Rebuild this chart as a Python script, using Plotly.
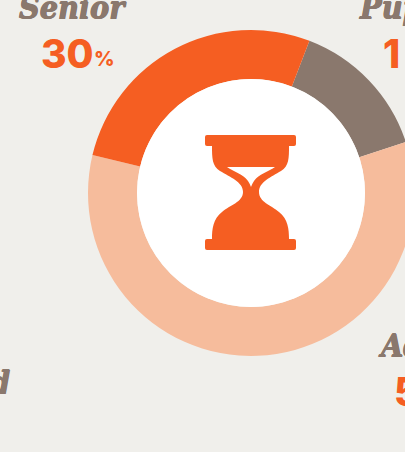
import plotly.graph_objects as go

categories = ["Pupil", "Adult", "Senior"]
arc_values = [14.1, 58.8, 27.1]
ORANGE = "#F55E22"; BROWN = "#8A786D"; PEACH = "#F6BC9C"; BG = "#F0EFEB"
colors = [BROWN, PEACH, ORANGE]

W, H = 502, 452
CX, CY, R, RI = 251, 193, 163, 114

fig = go.Figure(go.Pie(
    labels=categories, values=arc_values, sort=False, direction="clockwise",
    rotation=21, hole=RI / R, textinfo="none", hoverinfo="skip", showlegend=False,
    marker=dict(colors=colors, line=dict(width=0)),
    domain=dict(x=[(CX - R) / W, (CX + R) / W], y=[(H - CY - R) / H, (H - CY + R) / H]),
))

body = ("M212,146 L289,146 C289,158 289,166 281,171 C271,177 259,182 259,192 "
        "C259,202 271,205 279,212 C288,219 289,229 289,239 L212,239 "
        "C212,229 213,219 222,212 C230,205 243,202 243,192 C243,182 230,177 220,171 "
        "C212,166 212,158 212,146 Z")
glass = ("M227,167 L275,167 C268,172 259,174 254,181 Q252,184 251,187 Q250,184 248,181 "
         "C243,174 234,172 227,167 Z")
def bar(y0, y1):
    return (f"M207,{y0} L294,{y0} Q296,{y0} 296,{y0+2} L296,{y1-2} Q296,{y1} 294,{y1} "
            f"L207,{y1} Q205,{y1} 205,{y1-2} L205,{y0+2} Q205,{y0} 207,{y0} Z")

shapes = [
    dict(type="circle", xref="x", yref="y", x0=CX-RI, x1=CX+RI, y0=CY-RI, y1=CY+RI,
         fillcolor="white", line_width=0),
    dict(type="path", xref="x", yref="y", path=body, fillcolor=ORANGE, line_width=0),
    dict(type="path", xref="x", yref="y", path=bar(135, 146), fillcolor=ORANGE, line_width=0),
    dict(type="path", xref="x", yref="y", path=bar(239, 250), fillcolor=ORANGE, line_width=0),
    dict(type="path", xref="x", yref="y", path=glass, fillcolor="white", line_width=0),
]

name_font = dict(family="DejaVu Serif Condensed, DejaVu Serif", size=32, color=BROWN, weight="bold",
                 style="italic", shadow="0.5px 0 0 #8A786D, -0.5px 0 0 #8A786D, 0 -1px 0 #8A786D")
num_font = dict(family="Inter", size=39, color=ORANGE, weight=800)
pct_font = dict(family="Inter", size=20, color=ORANGE, weight=800)

def label(x, y, text, font, anchor="left"):
    fig.add_annotation(x=x, y=y, xref="x", yref="y", text=text, showarrow=False, font=font,
                       xanchor=anchor, yanchor="middle", align=anchor)

label(17, 8, "<i>Senior</i>", name_font)
label(39, 53, "30", num_font)
label(92, 59, "%", pct_font)
label(357, 8, "<i>Pupil</i>", name_font)
label(381, 53, "1\u200a\u200a4", num_font)
label(376, 346, "<i>Adult</i>", name_font)
label(392, 391, "59", num_font)
label(12, 383, "<i>Retired</i>", name_font, anchor="right")

fig.update_layout(
    width=W, height=H, margin=dict(l=0, r=0, t=0, b=0),
    paper_bgcolor=BG, plot_bgcolor=BG, shapes=shapes,
    xaxis=dict(range=[0, W], visible=False, fixedrange=True),
    yaxis=dict(range=[H, 0], visible=False, fixedrange=True),
)
fig.write_html("out.html", config=dict(displayModeBar=False),
               post_script="document.body.style.margin='0';document.documentElement.style.overflow='hidden';document.body.style.overflow='hidden';document.body.style.background='#F0EFEB';")
